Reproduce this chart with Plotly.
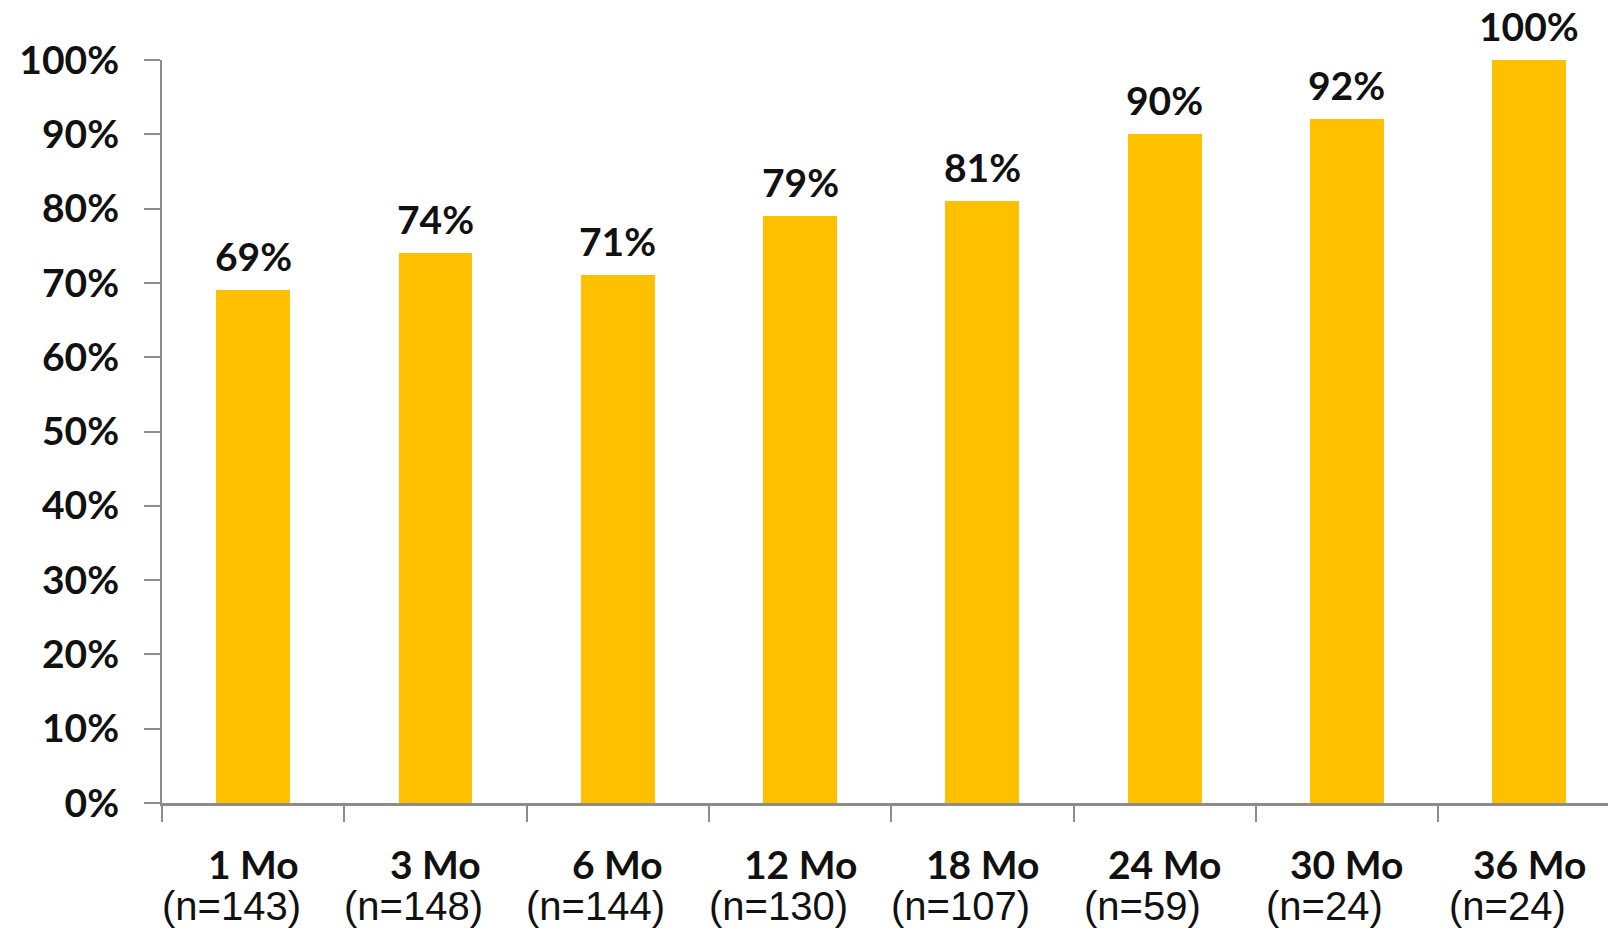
import plotly.graph_objects as go

# Follow-up time points, sample sizes and percentage values
categories = ["1 Mo", "3 Mo", "6 Mo", "12 Mo", "18 Mo", "24 Mo", "30 Mo", "36 Mo"]
sample_sizes = [143, 148, 144, 130, 107, 59, 24, 24]
values = [69, 74, 71, 79, 81, 90, 92, 100]

BAR_COLOR = "#FFC000"
AXIS_COLOR = "#8C8C8C"
TEXT_COLOR = "#111111"
MAIN_FONT = "Lato"
SUB_FONT = "Liberation Sans"

fractions = [v / 100 for v in values]

fig = go.Figure()
fig.add_trace(go.Bar(
    x=categories,
    y=fractions,
    width=0.405,
    marker=dict(color=BAR_COLOR, line=dict(width=0)),
    hoverinfo="skip",
))

# Value labels above each bar
for cat, v in zip(categories, values):
    fig.add_annotation(
        x=cat, y=v / 100, xref="x", yref="y",
        text=f"<b>{v}%</b>", showarrow=False,
        yanchor="middle", yshift=34,
        font=dict(family=MAIN_FONT, size=39, color=TEXT_COLOR),
    )

# Two-line category labels under the axis
for cat, n in zip(categories, sample_sizes):
    fig.add_annotation(
        x=cat, y=0, xref="x", yref="y",
        text=f"<b>{cat}</b>", showarrow=False,
        yanchor="middle", yshift=-61,
        font=dict(family=MAIN_FONT, size=39, color=TEXT_COLOR),
    )
    fig.add_annotation(
        x=cat, y=0, xref="x", yref="y",
        text=f"(n={n})", showarrow=False,
        yanchor="middle", yshift=-103, xshift=-22,
        font=dict(family=SUB_FONT, size=40, color=TEXT_COLOR),
    )

fig.update_layout(
    width=1608,
    height=932,
    margin=dict(l=162, r=0, t=60, b=129),
    paper_bgcolor="white",
    plot_bgcolor="white",
    showlegend=False,
    bargap=0,
)

fig.update_xaxes(
    type="category",
    range=[-0.5, 7.432],
    showticklabels=False,
    tickson="boundaries",
    ticks="outside",
    ticklen=16,
    tickwidth=2,
    tickcolor=AXIS_COLOR,
    showline=True,
    linecolor=AXIS_COLOR,
    linewidth=3,
    showgrid=False,
    zeroline=False,
)

fig.update_yaxes(
    range=[0, 1],
    tickmode="array",
    tickvals=[i / 10 for i in range(11)],
    tickformat=".0%",
    ticks="outside",
    ticklen=16,
    tickwidth=2,
    tickcolor=AXIS_COLOR,
    ticklabelstandoff=17,
    showline=True,
    linecolor=AXIS_COLOR,
    linewidth=2,
    showgrid=False,
    zeroline=False,
    tickfont=dict(family=MAIN_FONT, size=39, color=TEXT_COLOR, weight="bold"),
)

fig.write_html("out.html")
